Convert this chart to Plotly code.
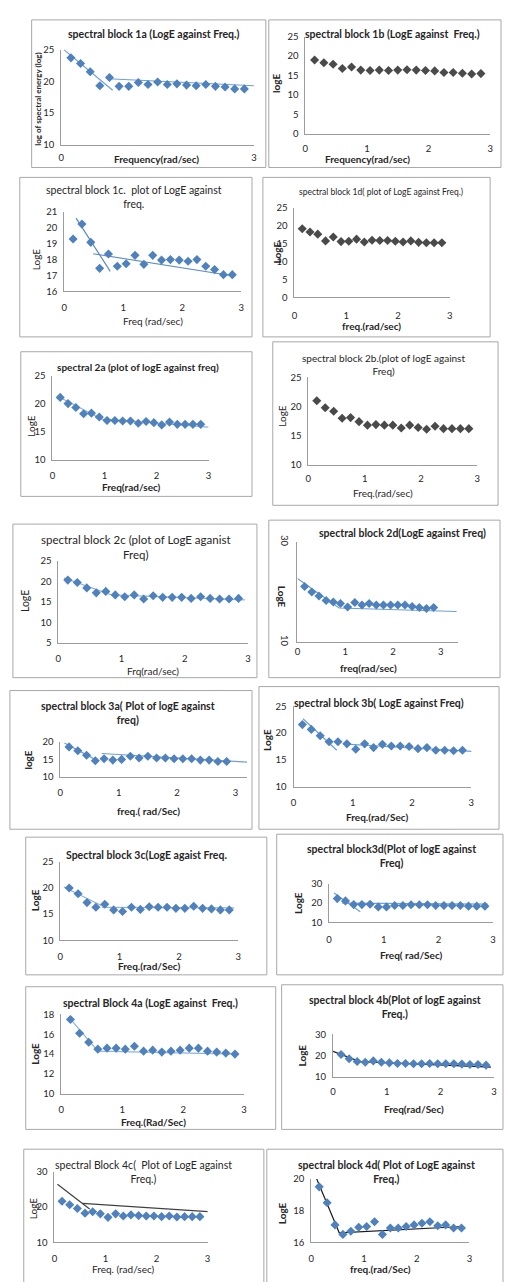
import plotly.graph_objects as go

W, H = 505, 1282

# ---------------- data ----------------
freq = [0.15, 0.30, 0.45, 0.60, 0.75, 0.90, 1.05, 1.20, 1.35, 1.50,
        1.65, 1.80, 1.95, 2.10, 2.25, 2.40, 2.55, 2.70, 2.85]
x_ticks = [0, 1, 2, 3]
x_ticks_1a = [0, 3]

loge_1a = [23.7, 22.8, 21.5, 19.3, 20.6, 19.2, 19.2, 19.8, 19.5, 19.9,
           19.5, 19.6, 19.4, 19.3, 19.5, 19.2, 19.1, 18.8, 18.8]
loge_1b = [19.0, 18.3, 17.9, 16.8, 17.2, 16.4, 16.3, 16.4, 16.3, 16.4,
           16.5, 16.4, 16.3, 16.2, 15.8, 15.8, 15.6, 15.4, 15.5]
loge_1c = [19.3, 20.24, 19.09, 17.45, 18.35, 17.58, 17.74, 18.27, 17.7, 18.27,
           17.97, 18.0, 17.97, 17.9, 18.0, 17.58, 17.37, 17.05, 17.05]
loge_1d = [19.2, 18.3, 17.7, 15.8, 16.9, 15.6, 15.7, 16.3, 15.5, 16.0,
           15.9, 15.9, 15.7, 15.5, 15.8, 15.4, 15.3, 15.3, 15.3]
loge_2a = [21.1, 20.0, 19.3, 18.2, 18.3, 17.6, 17.0, 17.0, 16.9, 16.9,
           16.5, 16.8, 16.6, 16.2, 16.7, 16.3, 16.3, 16.3, 16.3]
loge_2b = [21.0, 19.8, 19.2, 18.0, 18.1, 17.4, 16.8, 16.9, 16.8, 16.8,
           16.3, 16.8, 16.4, 16.1, 16.6, 16.2, 16.2, 16.2, 16.2]
loge_2c = [20.3, 19.7, 18.4, 17.2, 17.55, 16.7, 16.25, 16.7, 15.7, 16.5,
           16.1, 16.1, 16.1, 15.85, 16.25, 15.85, 15.7, 15.7, 15.85]
loge_2d = [21.1, 20.0, 19.2, 18.3, 18.0, 17.7, 17.0, 17.9, 17.4, 17.7,
           17.4, 17.4, 17.4, 17.4, 17.4, 17.1, 16.9, 16.7, 16.9]
loge_3a = [18.6, 17.5, 16.2, 14.6, 15.2, 14.8, 15.0, 15.9, 15.4, 15.9,
           15.4, 15.4, 15.2, 15.2, 15.2, 14.8, 14.8, 14.4, 14.4]
loge_3b = [21.6, 20.7, 19.5, 18.4, 18.4, 18.0, 17.0, 18.0, 17.3, 17.9,
           17.6, 17.6, 17.5, 17.1, 17.3, 16.8, 16.8, 16.7, 16.8]
loge_3c = [20.0, 18.9, 17.2, 16.3, 16.9, 15.8, 15.5, 16.3, 15.9, 16.4,
           16.3, 16.3, 16.1, 16.1, 16.5, 16.1, 16.0, 15.8, 15.8]
loge_3d = [22.3, 21.1, 19.2, 19.2, 19.4, 18.0, 18.0, 18.7, 18.7, 19.1,
           19.1, 19.1, 18.7, 18.7, 18.7, 18.7, 18.4, 18.4, 18.4]
loge_4a = [17.5, 16.1, 15.2, 14.5, 14.6, 14.6, 14.5, 14.8, 14.3, 14.4,
           14.2, 14.3, 14.4, 14.6, 14.6, 14.3, 14.2, 14.1, 14.0]
loge_4b = [20.5, 18.5, 17.2, 16.9, 17.5, 16.9, 16.6, 16.3, 16.3, 16.2,
           16.2, 16.3, 16.2, 16.2, 16.2, 16.0, 15.8, 15.8, 15.5]
loge_4c = [21.7, 20.7, 19.6, 18.3, 18.7, 18.1, 17.1, 18.1, 17.5, 17.8,
           17.6, 17.5, 17.5, 17.3, 17.5, 17.2, 17.3, 17.3, 17.3]
loge_4d = [19.5, 18.5, 17.1, 16.5, 16.7, 16.95, 17.0, 17.3, 16.5, 16.9,
           16.9, 17.0, 17.1, 17.2, 17.3, 17.05, 17.1, 16.9, 16.9]

# fitted trend lines (segments separated by None)
trend_1a_x = [0.04, 0.8, None, 0.73, 3.0]
trend_1a_y = [25.0, 18.6, None, 20.4, 19.3]
trend_1c_x = [0.2, 0.78, None, 0.49, 2.9]
trend_1c_y = [20.62, 17.26, None, 18.37, 16.95]
trend_2a_x = [0.1, 1.0, None, 0.9, 3.0]
trend_2a_y = [21.3, 17.0, None, 17.3, 15.8]
trend_2c_x = [0.09, 0.84, 2.95]
trend_2c_y = [20.8, 16.7, 15.5]
trend_2d_x = [0.0, 0.87, 3.33]
trend_2d_y = [22.7, 16.8, 16.1]
trend_3a_x = [0.07, 0.65, None, 0.71, 3.2]
trend_3a_y = [19.7, 14.5, None, 16.7, 14.2]
trend_3b_x = [0.16, 0.73, None, 0.95, 3.13]
trend_3b_y = [22.7, 16.8, None, 17.9, 16.5]
trend_3c_x = [0.06, 0.7, None, 0.7, 2.93]
trend_3c_y = [20.2, 16.6, None, 16.3, 16.2]
trend_3d_x = [0.09, 0.57, None, 0.24, 2.9]
trend_3d_y = [25.2, 15.5, None, 20.0, 19.4]
trend_4a_x = [0.14, 0.6, 2.88]
trend_4a_y = [17.6, 14.3, 14.0]
trend_4b_x = [0.0, 0.5, 2.94]
trend_4b_y = [22.0, 17.2, 14.6]
trend_4c_x = [0.06, 0.69, None, 0.55, 3.06]
trend_4c_y = [26.5, 19.5, None, 21.1, 18.7]
trend_4d_x = [0.09, 0.53, 2.87]
trend_4d_y = [20.1, 16.6, 17.0]

# ---------------- layout / styling per panel ----------------
BLUE = "#4f81bd"
GREY = "#4a4a4a"
LBLUE = "#8db3e2"
BLACK = "#1a1a1a"

panels = [
    dict(y=loge_1a, tx=trend_1a_x, ty=trend_1a_y, mc=BLUE, tc="#6f9fd8", xtv=x_ticks_1a,
         box=(29, 266, 13, 162), ax=(59, 254, 43, 139), xr=[0, 3], yr=[10, 25], yt=[10, 15, 20, 25],
         title="spectral block 1a (LogE against Freq.)", tp=(153, 27), tb=True, ts=10.5,
         xt="Frequency(rad/sec)", xp=(155, 153), xb=True,
         ytl="log of spectral energy (log)", yp=(36, 93), yb=True, yts=8, xso=4),
    dict(y=loge_1b, tx=None, ty=None, mc=GREY, tc=LBLUE,
         box=(269, 504, 13, 162), ax=(306, 493, 30, 128), xr=[0, 3], yr=[0, 25], yt=[0, 5, 10, 15, 20, 25],
         title="spectral block 1b (LogE against  Freq.)", tp=(394, 27), tb=True, ts=10.5,
         xt="Frequency(rad/sec)", xp=(369, 153), xb=True,
         ytl="logE", yp=(277, 77), yb=True, yts=10, xso=6),
    dict(y=loge_1c, tx=trend_1c_x, ty=trend_1c_y, mc=BLUE, tc="#5b8ac6",
         box=(17, 252, 172, 333), ax=(62, 241, 207, 287), xr=[0, 3], yr=[16, 21], yt=[16, 17, 18, 19, 20, 21],
         title="spectral block 1c.  plot of LogE against<br>freq.", tp=(133, 192), tb=False, ts=10.5,
         xt="Freq (rad/sec)", xp=(152, 317), xb=False,
         ytl="LogE", yp=(33, 255), yb=False, yts=10, xso=7),
    dict(y=loge_1d, tx=None, ty=None, mc=GREY, tc=LBLUE,
         box=(263, 493, 172, 333), ax=(295, 452, 203, 293), xr=[0, 3], yr=[0, 25], yt=[0, 5, 10, 15, 20, 25],
         title="spectral block 1d( plot of LogE against Freq.)", tp=(383, 187), tb=False, ts=8.5,
         xt="freq.(rad/sec)", xp=(373, 322), xb=True,
         ytl="LogE", yp=(277, 248), yb=True, yts=10, xso=9),
    dict(y=loge_2a, tx=trend_2a_x, ty=trend_2a_y, mc=BLUE, tc=LBLUE,
         box=(18, 252, 348, 494), ax=(50, 208, 372, 457), xr=[0, 3], yr=[10, 25], yt=[10, 15, 20, 25],
         title="spectral 2a (plot of logE against freq)", tp=(137, 363), tb=True, ts=10,
         xt="Freq(rad/sec)", xp=(130, 485), xb=True,
         ytl="LogE", yp=(28, 423), yb=False, yts=10, xso=7),
    dict(y=loge_2b, tx=None, ty=None, mc=GREY, tc=LBLUE,
         box=(273, 501, 338, 503), ax=(309, 480, 374, 462), xr=[0, 3], yr=[10, 25], yt=[10, 15, 20, 25],
         title="spectral block 2b.(plot of logE against<br>Freq)", tp=(385, 361), tb=False, ts=10,
         xt="Freq.(rad/sec)", xp=(385, 491), xb=False,
         ytl="LogE", yp=(282, 413), yb=False, yts=10, xso=5),
    dict(y=loge_2c, tx=trend_2c_x, ty=trend_2c_y, mc=BLUE, tc=LBLUE,
         box=(10, 257, 522, 677), ax=(56, 248, 559, 642), xr=[0, 3], yr=[5, 25], yt=[5, 10, 15, 20, 25],
         title="spectral block 2c (plot of LogE aganist<br>Freq)", tp=(135, 545), tb=False, ts=11.5,
         xt="Frq(rad/sec)", xp=(152, 670), xb=False,
         ytl="LogE", yp=(23, 600), yb=False, yts=10.5, xso=7),
    dict(y=loge_2d, tx=trend_2d_x, ty=trend_2d_y, mc=BLUE, tc="#6f9fd8",
         box=(269, 503, 518, 677), ax=(298, 460, 540, 641), xr=[0, 3.35], yr=[10, 30], yt=[10, 30],
         title="spectral block 2d(LogE against Freq)", tp=(404, 531), tb=True, ts=10.5,
         xt="freq(rad/sec)", xp=(370, 667), xb=True,
         ytl="LogE", yp=(282, 595), yb=True, yts=10, xso=1, yang=90),
    dict(y=loge_3a, tx=trend_3a_x, ty=trend_3a_y, mc=BLUE, tc="#6f9fd8",
         box=(7, 252, 690, 830), ax=(58, 247, 742, 777), xr=[0, 3.2], yr=[10, 20], yt=[10, 15, 20],
         title="spectral block 3a( Plot of logE against<br>freq)", tp=(127, 713), tb=True, ts=10.5,
         xt="freq.( rad/Sec)", xp=(147, 812), xb=True,
         ytl="logE", yp=(25, 760), yb=True, yts=10, xso=7),
    dict(y=loge_3b, tx=trend_3b_x, ty=trend_3b_y, mc=BLUE, tc="#6f9fd8",
         box=(259, 502, 686, 830), ax=(294, 474, 706, 787), xr=[0, 3], yr=[10, 25], yt=[10, 15, 20, 25],
         title="spectral block 3b( LogE against Freq)", tp=(381, 703), tb=True, ts=10.5,
         xt="Freq.(rad/Sec)", xp=(378, 818), xb=True,
         ytl="LogE", yp=(267, 740), yb=True, yts=10, xso=7),
    dict(y=loge_3c, tx=trend_3c_x, ty=trend_3c_y, mc=BLUE, tc=LBLUE,
         box=(23, 267, 838, 977), ax=(58, 238, 863, 942), xr=[0, 3], yr=[10, 25], yt=[10, 15, 20, 25],
         title="Spectral block 3c(LogE agaist Freq.", tp=(145, 856), tb=True, ts=10.5,
         xt="Freq.(rad/Sec)", xp=(148, 968), xb=True,
         ytl="LogE", yp=(32, 902), yb=True, yts=10, xso=7),
    dict(y=loge_3d, tx=trend_3d_x, ty=trend_3d_y, mc=BLUE, tc="#6f9fd8",
         box=(277, 506, 835, 977), ax=(330, 496, 885, 924), xr=[0, 3], yr=[10, 30], yt=[10, 20, 30],
         title="spectral block3d(Plot of logE against<br>Freq)", tp=(393, 857), tb=True, ts=10.5,
         xt="Freq( rad/Sec)", xp=(413, 957), xb=True,
         ytl="LogE", yp=(298, 904), yb=True, yts=10, xso=8),
    dict(y=loge_4a, tx=trend_4a_x, ty=trend_4a_y, mc=BLUE, tc=LBLUE,
         box=(23, 276, 989, 1133), ax=(59, 244, 1017, 1097), xr=[0, 3], yr=[10, 18], yt=[10, 12, 14, 16, 18],
         title="spectral Block 4a (LogE against  Freq.)", tp=(149, 1005), tb=True, ts=10.5,
         xt="Freq.(Rad/Sec)", xp=(152, 1126), xb=True,
         ytl="LogE", yp=(32, 1057), yb=True, yts=10, xso=7),
    dict(y=loge_4b, tx=trend_4b_x, ty=trend_4b_y, mc=BLUE, tc=BLACK,
         box=(282, 506, 987, 1133), ax=(334, 497, 1037, 1080), xr=[0, 3], yr=[10, 30], yt=[10, 20, 30],
         title="spectral block 4b(Plot of logE against<br>Freq.)", tp=(397, 1009), tb=True, ts=10.5,
         xt="Freq(rad/Sec)", xp=(416, 1112), xb=True,
         ytl="LogE", yp=(303, 1058), yb=True, yts=10, xso=6),
    dict(y=loge_4c, tx=trend_4c_x, ty=trend_4c_y, mc=BLUE, tc="#404040",
         box=(21, 264, 1153, 1290), ax=(52, 207, 1176, 1247), xr=[0, 3], yr=[10, 30], yt=[10, 20, 30],
         title="spectral Block 4c(  Plot of LogE against<br>Freq.)", tp=(142, 1176), tb=False, ts=10.5,
         xt="Freq. (rad/sec)", xp=(122, 1274), xb=False,
         ytl="LogE", yp=(30, 1213), yb=False, yts=10, xso=7),
    dict(y=loge_4d, tx=trend_4d_x, ty=trend_4d_y, mc=BLUE, tc=BLACK,
         box=(267, 506, 1153, 1290), ax=(312, 472, 1183, 1247), xr=[0, 3], yr=[16, 20], yt=[16, 18, 20],
         title="spectral block 4d( Plot of LogE against<br>Freq.)", tp=(388, 1176), tb=True, ts=10.5,
         xt="freq.(rad/Sec)", xp=(382, 1274), xb=True,
         ytl="LogE", yp=(282, 1218), yb=True, yts=10, xso=7),
]

FONT = "Lato, 'Liberation Sans', sans-serif"
TXT = "#262626"

fig = go.Figure()
shapes = []
annotations = []
layout_axes = {}


def px(x):
    return x / W


def py(y):
    return 1 - y / H


def b(text, bold):
    return f"<b>{text}</b>" if bold else text


for i, p in enumerate(panels, start=1):
    xa = "x" if i == 1 else f"x{i}"
    ya = "y" if i == 1 else f"y{i}"
    xk = "xaxis" if i == 1 else f"xaxis{i}"
    yk = "yaxis" if i == 1 else f"yaxis{i}"
    x0, x1, yt0, yt1 = p["ax"]

    if p["tx"] is not None:
        fig.add_trace(go.Scatter(x=p["tx"], y=p["ty"], mode="lines", xaxis=xa, yaxis=ya,
                                 line=dict(color=p["tc"], width=1.2), hoverinfo="skip",
                                 showlegend=False, connectgaps=False))
    fig.add_trace(go.Scatter(x=freq, y=p["y"], mode="markers", xaxis=xa, yaxis=ya,
                             marker=dict(symbol="diamond", size=7, color=p["mc"],
                                         line=dict(width=0)),
                             showlegend=False, cliponaxis=False))

    layout_axes[xk] = dict(domain=[px(x0), px(x1)], range=p["xr"], anchor=ya,
                           tickvals=p.get("xtv", x_ticks), showline=True, linecolor="#9c9c9c",
                           linewidth=1, showgrid=False, zeroline=False, ticks="",
                           tickfont=dict(size=9.5, color=TXT, family=FONT),
                           ticklabeloverflow="allow",
                           ticklabelstandoff=p["xso"], fixedrange=True)
    layout_axes[yk] = dict(domain=[py(yt1), py(yt0)], range=p["yr"], anchor=xa,
                           tickvals=p["yt"], showline=True, linecolor="#9c9c9c", linewidth=1,
                           showgrid=False, zeroline=False, ticks="",
                           tickangle=p.get("yang", 0),
                           tickfont=dict(size=9.5, color=TXT, family=FONT),
                           ticklabeloverflow="allow",
                           ticklabelstandoff=4, fixedrange=True)

    bx0, bx1, by0, by1 = p["box"]
    shapes.append(dict(type="rect", xref="paper", yref="paper",
                       x0=px(bx0), x1=px(bx1), y0=py(by1), y1=py(by0),
                       line=dict(color="#a8a8a8", width=1), fillcolor="rgba(0,0,0,0)",
                       layer="below"))

    annotations.append(dict(text=b(p["title"], p["tb"]), x=px(p["tp"][0]), y=py(p["tp"][1]),
                            xref="paper", yref="paper", xanchor="center", yanchor="middle",
                            showarrow=False, align="center",
                            font=dict(size=p["ts"], color=TXT, family=FONT)))
    annotations.append(dict(text=b(p["xt"], p["xb"]), x=px(p["xp"][0]), y=py(p["xp"][1]),
                            xref="paper", yref="paper", xanchor="center", yanchor="middle",
                            showarrow=False, font=dict(size=10, color=TXT, family=FONT)))
    annotations.append(dict(text=b(p["ytl"], p["yb"]), x=px(p["yp"][0]), y=py(p["yp"][1]),
                            xref="paper", yref="paper", xanchor="center", yanchor="middle",
                            showarrow=False, textangle=p.get("yang", -90),
                            font=dict(size=p["yts"], color=TXT, family=FONT)))

fig.update_layout(width=W, height=H, autosize=False,
                  margin=dict(l=0, r=0, t=0, b=0),
                  paper_bgcolor="white", plot_bgcolor="white",
                  shapes=shapes, annotations=annotations,
                  font=dict(family=FONT, color=TXT),
                  **layout_axes)

# remove the browser's default 8px body margin so the figure sits at the page origin
fig.write_html("out.html", config={"displayModeBar": False},
               post_script="document.body.style.margin='0';document.body.style.overflow='hidden';")
